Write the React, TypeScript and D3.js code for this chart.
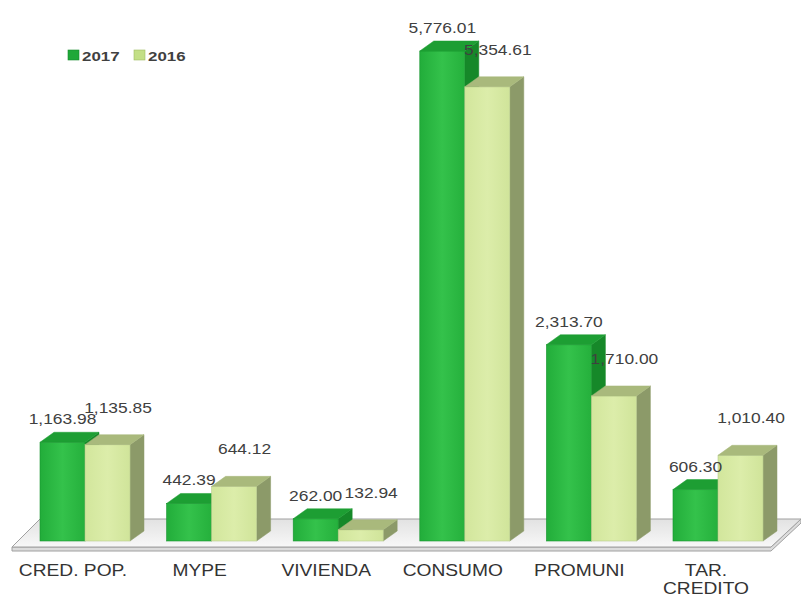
import * as d3 from "d3";

const categories = ["CRED. POP.", "MYPE", "VIVIENDA", "CONSUMO", "PROMUNI", "TAR.\nCREDITO"];
const seriesNames = ["2017", "2016"];
const values2017 = [1163.98, 442.39, 262.0, 5776.01, 2313.7, 606.3];
const values2016 = [1135.85, 644.12, 132.94, 5354.61, 1710.0, 1010.4];

const W = 801;
const H = 598;
const DX = 14;
const DY = 10;
const STRETCH = 1.2;

const palette: Record<string, { front: string; top: string; side: string; edge: string }> = {
  "2017": { front: "url(#g2017)", top: "#1d9e33", side: "#168829", edge: "#18952f" },
  "2016": { front: "url(#g2016)", top: "#a9b97c", side: "#8c9a69", edge: "#b9cc8e" },
};

const fmt = d3.format(",.2f");

export default function App() {
  const x = d3.scaleBand<string>().domain(categories).range([40, 763]).paddingInner(0.289).paddingOuter(0);
  const xs = d3.scaleBand<string>().domain(seriesNames).range([0, x.bandwidth()]).padding(0);
  const y = d3.scaleLinear().domain([0, 6000]).range([541, 32]);
  const base = y(0);

  const series = [
    { name: "2017", values: values2017 },
    { name: "2016", values: values2016 },
  ];

  const floor = [[12, 547], [40, 519], [801, 519], [771, 547]];
  const floorPath = d3.line()(floor as [number, number][]) + "Z";
  const floorEdge = d3.line()([[12, 547], [771, 547], [801, 519], [801, 523], [771, 551], [12, 551]] as [number, number][]) + "Z";

  const label = (txt: string, cx: number, by: number, size: number, color: string, weight = "normal", key?: string) => (
    <text
      key={key}
      transform={`translate(${cx},${by}) scale(${STRETCH},1)`}
      textAnchor="middle"
      fontSize={size}
      fontWeight={weight}
      fill={color}
      fontFamily="'Liberation Sans', Arial, sans-serif"
    >
      {txt}
    </text>
  );

  return (
    <svg width={W} height={H} style={{ position: "absolute", left: 0, top: 0, background: "#fff" }}>
      <defs>
        <linearGradient id="g2017" x1="0" x2="1" y1="0" y2="0">
          <stop offset="0" stopColor="#22ad3a" />
          <stop offset="0.5" stopColor="#34c24b" />
          <stop offset="1" stopColor="#25b03c" />
        </linearGradient>
        <linearGradient id="g2016" x1="0" x2="1" y1="0" y2="0">
          <stop offset="0" stopColor="#d2e69c" />
          <stop offset="0.5" stopColor="#dcedaa" />
          <stop offset="1" stopColor="#d0e49a" />
        </linearGradient>
        <linearGradient id="gFloor" x1="0" x2="0" y1="0" y2="1">
          <stop offset="0" stopColor="#e2e2e2" />
          <stop offset="1" stopColor="#f8f8f8" />
        </linearGradient>
      </defs>

      {/* floor */}
      <path d={floorEdge} fill="#dcdcdc" stroke="#a0a0a0" strokeWidth={1} />
      <path d={floorPath} fill="url(#gFloor)" stroke="#a0a0a0" strokeWidth={1} />

      {/* bars */}
      {categories.map((c, i) => (
        <g key={c}>
          {series.map((s) => {
            const x0 = (x(c) ?? 0) + (xs(s.name) ?? 0);
            const w = xs.bandwidth();
            const yt = y(s.values[i]);
            const col = palette[s.name];
            const topPts: [number, number][] = [[x0, yt], [x0 + DX, yt - DY], [x0 + w + DX, yt - DY], [x0 + w, yt]];
            const sidePts: [number, number][] = [[x0 + w, yt], [x0 + w + DX, yt - DY], [x0 + w + DX, base - DY], [x0 + w, base]];
            return (
              <g key={s.name}>
                <path d={d3.line()(sidePts) + "Z"} fill={col.side} stroke={col.side} strokeWidth={0.5} />
                <rect x={x0} y={yt} width={w} height={base - yt} fill={col.front} stroke={col.edge} strokeWidth={0.6} />
                <path d={d3.line()(topPts) + "Z"} fill={col.top} stroke={col.top} strokeWidth={0.5} />
              </g>
            );
          })}
        </g>
      ))}

      {/* value labels */}
      {categories.map((c, i) =>
        series.map((s, j) => {
          const x0 = (x(c) ?? 0) + (xs(s.name) ?? 0);
          const w = xs.bandwidth();
          const yt = y(s.values[i]) - DY;
          const cx = j === 0 ? x0 + w / 2 : x0 + w / 2 + DX * 0.75;
          const by = j === 0 ? yt - 8 : yt - 22;
          return label(fmt(s.values[i]), cx, by, 14.5, "#404040", "normal", c + s.name);
        })
      )}

      {/* category labels */}
      {categories.map((c) =>
        c.split("\n").map((line, k) =>
          label(line, (x(c) ?? 0) + x.bandwidth() / 2 - 12, 576 + k * 18, 16, "#333333", "normal", c + k)
        )
      )}

      {/* legend */}
      {series.map((s, j) => {
        const lx = 68 + j * 66;
        return (
          <g key={s.name}>
            <rect x={lx} y={50} width={11} height={10} fill={s.name === "2017" ? "#1fa838" : "#c3df86"} stroke={s.name === "2017" ? "#178a2c" : "#9fbc62"} strokeWidth={0.6} />
            <text
              transform={`translate(${lx + 14},${61}) scale(1.3,1)`}
              fontSize={13}
              fontWeight="bold"
              fill="#404040"
              fontFamily="'Liberation Sans', Arial, sans-serif"
            >
              {s.name}
            </text>
          </g>
        );
      })}
    </svg>
  );
}
